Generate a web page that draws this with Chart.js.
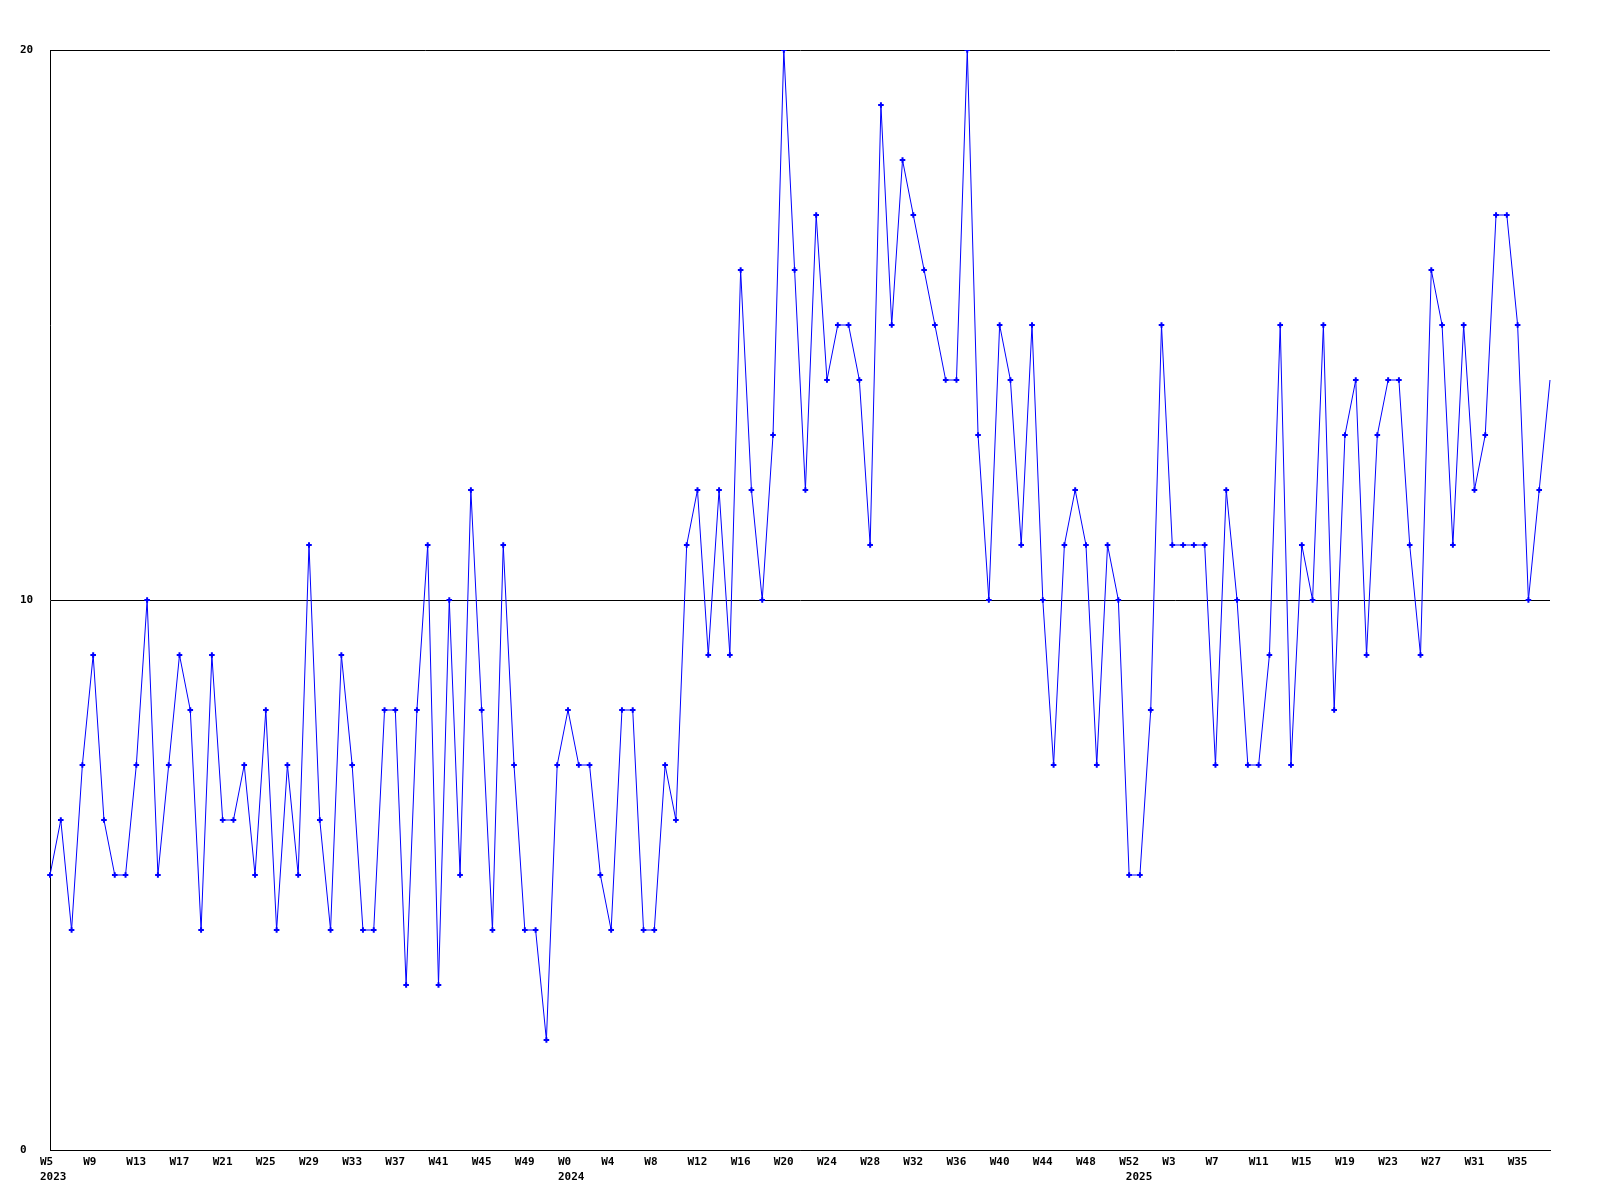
<!DOCTYPE html>
<html>
<head>
<meta charset="utf-8">
<script src="https://cdn.jsdelivr.net/npm/chart.js@4/dist/chart.umd.min.js"></script>
<style>
    body { margin: 0; background: #ffffff; }
    #lineChart { display: block; }
</style>
</head>
<body>
<canvas id="lineChart" width="1600" height="1200"></canvas>
<script>
// weekly counts, one array per year
const values2023 = [5, 6, 4, 7, 9, 6, 5, 5, 7, 10, 5, 7, 9, 8, 4, 9, 6, 6, 7, 5, 8, 4, 7, 5, 11, 6, 4, 9, 7, 4, 4, 8, 8, 3, 8, 11, 3, 10, 5, 12, 8, 4, 11, 7, 4, 4, 2, 7];
const values2024 = [8, 7, 7, 5, 4, 8, 8, 4, 4, 7, 6, 11, 12, 9, 12, 9, 16, 12, 10, 13, 20, 16, 12, 17, 14, 15, 15, 14, 11, 19, 15, 18, 17, 16, 15, 14, 14, 20, 13, 10, 15, 14, 11, 15, 10, 7, 11, 12, 11, 7, 11, 10, 5];
const values2025 = [5, 8, 15, 11, 11, 11, 11, 7, 12, 10, 7, 7, 9, 15, 7, 11, 10, 15, 8, 13, 14, 9, 13, 14, 14, 11, 9, 16, 15, 11, 15, 12, 13, 17, 17, 15, 10, 12, 14];

// first week number of each year's run
const firstWeeks = [5, 0, 0];

// year shown under the tick label at these positions
const yearTickLabels = { 0: "2023", 48: "2024", 100: " 2025" };

const yTicks = [0, 10, 20];

let jFWeekLabels = ({ inSeries, inFirstWeeks }) => {
    let jVarLocalLabels = [];
    inSeries.forEach((arr, k) => {
        arr.forEach((v, i) => jVarLocalLabels.push("W" + (inFirstWeeks[k] + i)));
    });
    return jVarLocalLabels;
};

const StartFunc = () => {
    let jVarLocalData = [].concat(values2023, values2024, values2025);
    let jVarLocalLabels = jFWeekLabels({ inSeries: [values2023, values2024, values2025], inFirstWeeks: firstWeeks });
    let jVarLocalLastIndex = jVarLocalData.length - 1;

    const ctx = document.getElementById('lineChart');

    new Chart(ctx, {
        type: 'line',
        data: {
            labels: jVarLocalLabels,
            datasets: [{
                data: jVarLocalData,
                borderColor: '#0000ff',
                backgroundColor: '#0000ff',
                borderWidth: 1,
                tension: 0,
                pointStyle: 'cross',
                // the point on the right edge has no marker in the original
                pointRadius: (c) => (c.dataIndex === jVarLocalLastIndex ? 0 : 2.8),
                pointBorderWidth: 2,
                pointBorderColor: '#0000ff',
                fill: false
            }]
        },
        options: {
            responsive: false,
            animation: false,
            devicePixelRatio: 1,
            layout: { padding: { left: 20, right: 50, top: 50, bottom: 0 } },
            plugins: {
                legend: { display: false },
                tooltip: { enabled: false }
            },
            scales: {
                x: {
                    offset: false,
                    grid: { display: false, drawTicks: false },
                    border: { display: true, color: '#000000', width: 1 },
                    afterFit: (scale) => { scale.height = 50; },
                    ticks: {
                        autoSkip: false,
                        maxRotation: 0,
                        minRotation: 0,
                        align: 'start',
                        labelOffset: -10,
                        padding: 5,
                        color: '#000000',
                        font: { family: 'DejaVu Sans Mono', size: 11, weight: 'bold', lineHeight: 1.35 },
                        callback: function (value, index) {
                            if (index % 4 !== 0) return '';
                            let jVarLocalWeek = this.getLabelForValue(value);
                            if (yearTickLabels[index]) return [jVarLocalWeek, yearTickLabels[index]];
                            return jVarLocalWeek;
                        }
                    }
                },
                y: {
                    min: yTicks[0],
                    max: yTicks[yTicks.length - 1],
                    afterBuildTicks: (scale) => { scale.ticks = yTicks.map(v => ({ value: v })); },
                    afterFit: (scale) => { scale.width = 30; },
                    grid: { display: true, color: '#000000', lineWidth: 1, drawTicks: false },
                    border: { display: true, color: '#000000', width: 1 },
                    ticks: {
                        crossAlign: 'far',
                        padding: 0,
                        color: '#000000',
                        font: { family: 'DejaVu Sans Mono', size: 11, weight: 'bold' }
                    }
                }
            }
        }
    });
};

StartFunc();
</script>
</body>
</html>
